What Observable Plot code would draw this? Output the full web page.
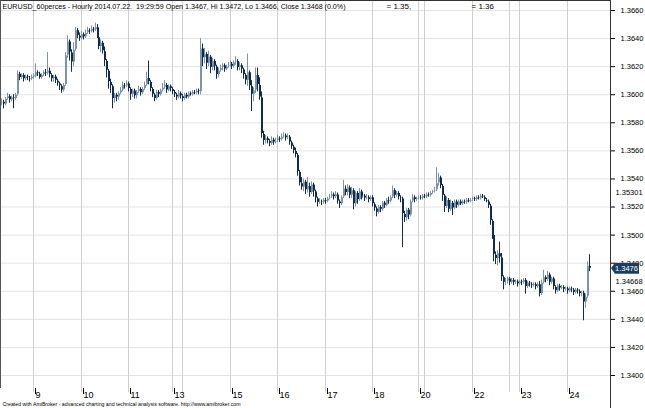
<!DOCTYPE html>
<html><head><meta charset="utf-8">
<script src="https://cdn.jsdelivr.net/npm/d3@7"></script>
<script src="https://cdn.jsdelivr.net/npm/@observablehq/plot@0.6"></script>
<style>
body{margin:0;background:#fff;}
#wrap{width:645px;height:408px;overflow:hidden;}
</style></head><body><div id="wrap"></div>
<script>
// Prices are given in pips above 1.3000 (e.g. 595 -> 1.3595)
const BASE = 1.3;
const O = [594,595,593,597,599,596,598,597,600,615,
612,614,611,613,612,611,613,613,616,615,
612,614,616,615,617,614,611,613,610,608,
606,603,607,628,638,630,623,632,646,642,
640,643,641,644,646,645,647,646,648,641,
634,637,631,624,617,609,606,597,600,598,
601,603,607,606,608,604,600,603,599,602,
604,601,604,607,612,609,604,600,597,602,
600,603,605,607,603,606,604,602,600,598,
601,599,597,600,598,601,600,602,601,603,
602,633,626,629,622,627,619,624,620,614,
617,619,621,618,620,621,622,620,623,624,
619,621,618,614,610,616,606,600,603,614,
607,598,572,567,569,567,565,568,566,567,
569,568,570,571,569,570,566,563,560,557,
545,537,534,538,532,535,530,536,531,526,
523,524,523,525,524,526,527,529,527,529,
524,522,527,533,530,534,528,532,522,530,
525,531,527,528,526,527,525,527,522,519,
516,520,518,523,521,525,524,527,532,528,
530,527,526,515,512,518,514,524,527,525,
526,527,526,528,527,529,528,530,531,532,
537,541,535,528,520,525,518,523,519,524,
521,524,522,524,523,525,524,525,526,525,
527,526,528,527,525,524,521,510,500,486,
483,487,484,470,466,467,469,466,468,466,
467,465,467,466,468,463,466,465,464,465,
463,465,458,466,470,468,472,466,469,463,
460,464,462,463,461,462,460,462,461,459,
461,460,458,459,452,456,478];
const H = [597,596,598,601,600,599,600,601,617,616,
615,615,614,614,613,614,615,622,617,616,
615,617,618,630,619,615,614,614,611,609,
607,608,630,642,639,632,637,648,647,644,
645,644,646,648,647,649,648,651,650,642,
639,638,634,625,618,611,607,601,601,602,
605,609,608,610,609,605,604,604,603,606,
605,605,609,616,624,610,605,601,603,603,
604,608,610,608,607,607,605,603,601,603,
602,600,601,601,602,602,603,603,604,604,
640,636,633,630,631,628,626,625,621,619,
621,622,622,621,623,624,623,624,627,625,
623,622,619,615,629,617,610,605,619,619,
612,602,574,571,570,568,570,569,569,571,
570,572,573,572,572,571,567,564,562,558,
546,541,540,539,541,537,538,537,532,527,
526,525,526,526,527,529,531,530,531,530,
525,528,539,535,536,535,534,533,531,531,
533,532,530,529,529,528,528,528,523,520,
521,521,524,524,526,527,528,535,533,531,
531,528,527,517,519,519,525,529,528,527,
528,528,529,529,530,530,531,532,534,548,
544,542,536,529,527,526,525,524,525,525,
525,525,525,525,526,526,526,527,527,528,
528,529,529,528,526,525,522,511,501,488,
489,495,487,471,469,470,470,469,469,468,
468,468,468,469,469,467,467,466,466,466,
466,467,468,475,471,474,473,470,470,464,
465,465,464,464,463,463,463,463,462,462,
462,461,460,460,458,481,486];
const L = [592,590,592,596,594,595,590,596,599,610,
611,609,610,610,609,610,611,612,613,611,
611,613,613,614,612,609,609,608,606,603,
601,602,606,626,624,616,620,631,640,638,
639,639,640,643,643,644,644,645,640,632,
630,629,620,612,604,601,590,594,595,596,
600,602,604,605,602,596,598,597,597,601,
599,600,603,606,607,602,598,595,596,598,
599,602,604,601,602,602,600,598,596,597,
597,595,596,597,597,599,599,600,600,600,
600,620,622,618,620,615,617,617,611,612,
616,617,616,617,619,620,618,619,621,617,
617,615,611,607,606,603,588,595,601,602,
596,569,564,565,565,563,564,564,565,566,
566,567,569,567,568,564,561,558,555,542,
535,532,531,529,530,527,529,527,523,520,
522,521,522,522,523,525,526,525,526,522,
519,521,526,528,528,526,526,518,520,522,
524,525,526,524,525,523,524,520,517,513,
515,516,517,519,520,522,523,526,526,527,
525,523,491,509,510,511,513,523,523,524,
525,525,525,526,526,527,527,529,530,531,
535,533,524,516,519,516,517,514,518,519,
520,521,521,522,522,523,523,524,524,524,
525,525,526,524,523,519,507,497,481,479,
478,480,467,461,464,465,464,465,464,465,
463,464,464,465,458,462,463,462,463,461,
462,456,457,465,466,467,464,465,461,458,
459,460,461,459,460,458,459,459,457,458,
458,456,456,439,448,455,474];
const C = [595,593,597,599,596,598,597,600,615,612,
614,611,613,612,611,613,613,616,615,612,
614,616,615,617,614,611,613,610,608,606,
603,607,628,638,630,623,632,646,642,640,
643,641,644,646,645,647,646,648,641,634,
637,631,624,617,609,606,597,600,598,601,
603,607,606,608,604,600,603,599,602,604,
601,604,607,612,609,604,600,597,602,600,
603,605,607,603,606,604,602,600,598,601,
599,597,600,598,601,600,602,601,603,602,
633,626,629,622,627,619,624,620,614,617,
619,621,618,620,621,622,620,623,624,619,
621,618,614,610,616,606,600,603,614,607,
598,572,567,569,567,565,568,566,567,569,
568,570,571,569,570,566,563,560,557,545,
537,534,538,532,535,530,536,531,526,523,
524,523,525,524,526,527,529,527,529,524,
522,527,533,530,534,528,532,522,530,525,
531,527,528,526,527,525,527,522,519,516,
520,518,523,521,525,524,527,532,528,530,
527,526,515,512,518,514,524,527,525,526,
527,526,528,527,529,528,530,531,532,537,
541,535,528,520,525,518,523,519,524,521,
524,522,524,523,525,524,525,526,525,527,
526,528,527,525,524,521,510,500,486,483,
487,484,470,466,467,469,466,468,466,467,
465,467,466,468,463,466,465,464,465,463,
465,458,466,470,468,472,466,469,463,460,
464,462,463,461,462,460,462,461,459,461,
460,458,459,452,456,478,476];

// x axis: bar index where each labelled day starts
const dayTicks  = [16, 40, 64, 86, 115, 139, 163, 187, 210, 237, 261, 285];
const dayLabels = ["9","10","11","13","15","16","17","18","20","22","23","24"];
const extraGrid = [91, 213, 256];
const priceTicks = [1.3400,1.3420,1.3440,1.3460,1.3480,1.3500,1.3520,1.3540,1.3560,1.3580,1.3600,1.3620,1.3640,1.3660];
const studyValues = [1.35301, 1.34668];
const lastClose = 1.3476;
const headerText = "EURUSD_60perces - Hourly 2014.07.22.  19:29:59 Open 1.3467, Hi 1.3472, Lo 1.3466, Close 1.3468 (0.0%)";
const headerLevels = ["= 1.35,", "= 1.36"];
const footerText = "Created with AmiBroker - advanced charting and technical analysis software. http://www.amibroker.com";

const FONT = "'Liberation Sans',Arial,sans-serif";
const UP = "#7b93ab", DOWN = "#0f2c4c";

const bars = C.map((c, i) => {
  const o = O[i];
  return {
    i,
    high: BASE + H[i] / 1e4,
    low: BASE + L[i] / 1e4,
    top: BASE + Math.max(o, c) / 1e4,
    bot: BASE + Math.min(o, c) / 1e4,
    dir: c >= o ? "up" : "down"
  };
});

const plot = Plot.plot({
  width: 645, height: 408,
  marginTop: 0, marginRight: 35, marginBottom: 20, marginLeft: 0,
  x: {type: "linear", domain: [-0.625, 306.7], round: true, label: null},
  y: {domain: [1.339073, 1.366712], label: null},
  color: {domain: ["up", "down"], range: [UP, DOWN]},
  style: {fontFamily: FONT, fontSize: "8px", background: "white", color: "#000", overflow: "visible"},
  marks: [
    Plot.ruleY(priceTicks, {stroke: "#e3e3e3"}),
    Plot.ruleX(dayTicks.concat(extraGrid), {stroke: "#cfcfcf", insetBottom: -4}),
    Plot.ruleX(bars, {x: "i", y1: "low", y2: "high", stroke: "dir", strokeWidth: 1}),
    Plot.ruleX(bars, {x: "i", y1: "bot", y2: "top", stroke: "dir", strokeWidth: 2, dx: 0.5, insetTop: -0.5, insetBottom: -0.5}),
    Plot.axisY(priceTicks, {anchor: "right", label: null, tickSize: 4, tickPadding: 6, tickFormat: d => d.toFixed(4), fontSize: 7.5, textAnchor: "start"}),
    Plot.axisX(dayTicks, {anchor: "bottom", label: null, tickSize: 6, tickPadding: -3, tickFormat: d => dayLabels[dayTicks.indexOf(d)], textAnchor: "start", dx: 2, fontSize: 9}),
    Plot.text(studyValues, {y: d => d, frameAnchor: "right", dx: 5, textAnchor: "start", text: d => d.toFixed(5), fontSize: 7.5}),
    Plot.text([headerText], {frameAnchor: "top-left", dx: 2, dy: 6, textAnchor: "start", lineAnchor: "middle", fontSize: 8}),
    Plot.text([headerLevels[0]], {frameAnchor: "top-left", dx: 386, dy: 6, textAnchor: "start", lineAnchor: "middle", fontSize: 8}),
    Plot.text([headerLevels[1]], {frameAnchor: "top-left", dx: 471, dy: 6, textAnchor: "start", lineAnchor: "middle", fontSize: 8}),
    Plot.text([footerText], {frameAnchor: "bottom-left", dx: 2, dy: 16, textAnchor: "start", lineAnchor: "middle", fontSize: 5.5}),
    Plot.ruleY([1.366712], {stroke: "#333"}),
    Plot.ruleX([-0.625], {stroke: "#555"})
  ]
});
document.getElementById("wrap").appendChild(plot);

const svg = d3.select(plot);
// condense the long texts to the reference's narrow face
svg.selectAll("text").each(function () {
  const t = this.textContent;
  if (t === headerText) d3.select(this).attr("textLength", 343).attr("lengthAdjust", "spacingAndGlyphs");
  if (t === footerText) d3.select(this).attr("textLength", 238).attr("lengthAdjust", "spacingAndGlyphs");
});

// last-close marker on the price axis
const yPix = plot.scale("y").apply(lastClose);
const xr = 610;
const g = svg.append("g").attr("text-anchor", "start");
g.append("line").attr("x1", xr + 0.5).attr("x2", xr + 0.5).attr("y1", 0).attr("y2", 408).attr("stroke", "#333");
g.append("path")
  .attr("d", `M${xr + 1},${yPix} L${xr + 5},${yPix - 5.5} L${xr + 29},${yPix - 5.5} L${xr + 29},${yPix + 5.5} L${xr + 5},${yPix + 5.5} Z`)
  .attr("fill", "#1c3d5e");
g.append("text")
  .attr("x", xr + 5).attr("y", yPix).attr("dy", "0.32em")
  .attr("text-anchor", "start")
  .attr("fill", "#ffffff").attr("font-size", 7.5).attr("font-family", FONT)
  .text(lastClose.toFixed(4));
</script>
</body></html>
